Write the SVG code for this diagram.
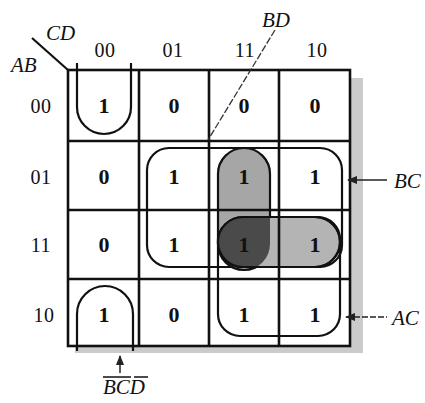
<svg xmlns="http://www.w3.org/2000/svg" width="425" height="403" viewBox="0 0 425 403">
<style>
.hd{font-family:"Liberation Serif",serif;font-size:20px;fill:#111;text-anchor:middle;letter-spacing:0.5px}
.v{font-family:"Liberation Serif",serif;font-size:22px;font-weight:bold;fill:#111;text-anchor:middle}
.lb{font-family:"Liberation Serif",serif;font-style:italic;font-size:21px;fill:#111}
.g{stroke:#111;stroke-width:2.6;fill:none}
.loop{stroke:#111;stroke-width:2.2;fill:none}
</style>
<defs>
<marker id="ah" viewBox="0 0 10 10" refX="9" refY="5" markerWidth="7" markerHeight="7" orient="auto-start-reverse"><path d="M0,1 L10,5 L0,9 Z" fill="#222"/></marker>
<clipPath id="vclip"><rect x="218" y="148" width="52" height="122" rx="26"/></clipPath>
</defs>
<rect width="425" height="403" fill="#fff"/>
<g id="shadow"><path d="M350,78 H363 V353 H75 V346 H350 Z" fill="#cbcbcb"/></g>
<g id="loops">
<rect id="loop-big" class="loop" x="147" y="148" width="195" height="119" rx="22"/>
<rect id="loop-ac" class="loop" x="218" y="217" width="122" height="119" rx="22"/>
<rect id="loop-bd" x="218" y="148" width="52" height="122" rx="26" fill="#a6a6a6" stroke="#111" stroke-width="2.2"/>
<rect id="loop-row11" x="218" y="217" width="122" height="50" rx="25" fill="#b4b4b4" stroke="#111" stroke-width="2.2"/>
<rect x="218" y="217" width="122" height="50" rx="25" fill="#4a4a4a" clip-path="url(#vclip)"/>
<rect x="218" y="217" width="122" height="50" rx="25" fill="none" stroke="#111" stroke-width="2.2"/>
<path id="loop-top" class="loop" d="M77,63 V107 A27,27 0 0 0 131,107 V63"/>
<path id="loop-bottom" class="loop" d="M77,351 V314 A28,28 0 0 1 133,314 V351"/>
</g>
<g id="grid">
<rect class="g" x="68" y="70" width="282" height="276" stroke-width="3"/>
<path class="g" d="M139,70 V346 M209,70 V346 M279,70 V346 M68,141 H350 M68,210 H350 M68,279 H350"/>
<line x1="32" y1="38" x2="68" y2="70" stroke="#111" stroke-width="2.2"/>
</g>
<g id="headers">
<text class="lb" x="46" y="40" font-size="22">CD</text>
<text class="lb" x="11" y="72" font-size="22">AB</text>
<text class="hd" x="105" y="57">00</text>
<text class="hd" x="173" y="57">01</text>
<text class="hd" x="245" y="57">11</text>
<text class="hd" x="317" y="57">10</text>
<text class="hd" x="41" y="113">00</text>
<text class="hd" x="41" y="184">01</text>
<text class="hd" x="41" y="252">11</text>
<text class="hd" x="44" y="322">10</text>
</g>
<g id="cells">
<text class="v" x="104" y="113">1</text><text class="v" x="174" y="113">0</text><text class="v" x="244" y="113">0</text><text class="v" x="315" y="113">0</text>
<text class="v" x="104" y="184">0</text><text class="v" x="174" y="184">1</text><text class="v" x="244" y="184">1</text><text class="v" x="315" y="184">1</text>
<text class="v" x="104" y="252">0</text><text class="v" x="174" y="252">1</text><text class="v" x="244" y="252" fill="#222">1</text><text class="v" x="315" y="252">1</text>
<text class="v" x="104" y="322">1</text><text class="v" x="174" y="322">0</text><text class="v" x="244" y="322">1</text><text class="v" x="315" y="322">1</text>
</g>
<g id="connectors">
<line x1="275" y1="30" x2="208" y2="140" stroke="#333" stroke-width="1.3" stroke-dasharray="7 2"/>
<line x1="348" y1="180" x2="387" y2="180" stroke="#222" stroke-width="1.5" marker-start="url(#ah)"/>
<line x1="346" y1="317" x2="387" y2="317" stroke="#222" stroke-width="1.5" stroke-dasharray="6 2" marker-start="url(#ah)"/>
<line x1="120" y1="373" x2="120" y2="356" stroke="#222" stroke-width="1.5" marker-end="url(#ah)"/>
</g>
<g id="labels">
<text class="lb" x="262" y="27" font-size="19">BD</text>
<text class="lb" x="394" y="188">BC</text>
<text class="lb" x="392" y="325">AC</text>
<text class="lb" x="103" y="394" font-size="22">BCD</text>
<path d="M103,377 H131 M134,377 H148" stroke="#111" stroke-width="1.6"/>
</g>
</svg>
